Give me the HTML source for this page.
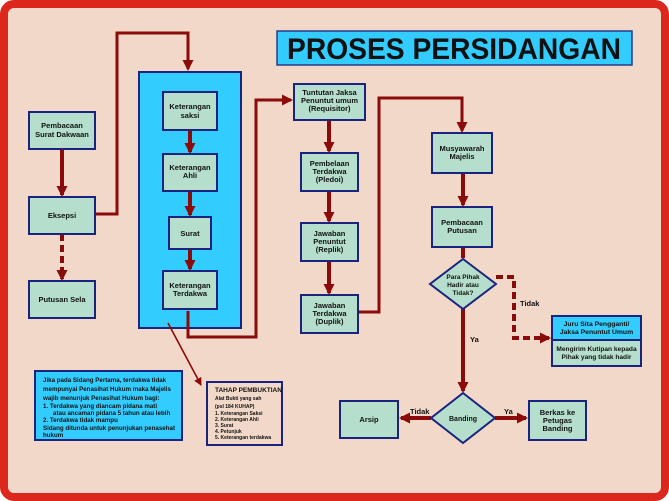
<!DOCTYPE html>
<html><head><meta charset="utf-8"><style>
html,body{margin:0;padding:0;background:#fff}
svg{display:block}
text{font-family:"Liberation Sans",sans-serif;font-weight:bold;fill:#111}
</style></head><body>
<svg width="669" height="501" viewBox="0 0 669 501" xmlns="http://www.w3.org/2000/svg">
<defs>
<marker id="a" markerWidth="11" markerHeight="11" refX="9" refY="5.5" orient="auto" markerUnits="userSpaceOnUse"><path d="M0,0 L11,5.5 L0,11 z" fill="#8b0a0a"/></marker>
<marker id="b" markerWidth="8" markerHeight="8" refX="7" refY="4" orient="auto" markerUnits="userSpaceOnUse"><path d="M0,0 L8,4 L0,8 z" fill="#8b0a0a"/></marker>
</defs>
<rect x="0" y="0" width="669" height="501" fill="#fff"/>
<rect x="4" y="4" width="661" height="493" rx="10" fill="#f2d8c8" stroke="#dc281c" stroke-width="8"/>

<rect x="277" y="31" width="355" height="34" fill="#33ccff" stroke="#2a3a8a" stroke-width="1.5"/>
<text x="454" y="59" text-anchor="middle" font-size="30" textLength="334" lengthAdjust="spacingAndGlyphs">PROSES PERSIDANGAN</text>

<rect x="139" y="72" width="102" height="256" fill="#33ccff" stroke="#1a237e" stroke-width="2"/>

<g fill="none" stroke="#8b0a0a" stroke-width="4">
<path d="M62,149 V195" marker-end="url(#a)"/>
<path d="M62,234 V279" stroke-dasharray="7,4" marker-end="url(#a)"/>
<path d="M95,214 H117 V33 H188 V69" stroke-width="3" marker-end="url(#a)"/>
<path d="M190,130 V152" marker-end="url(#a)"/>
<path d="M190,191 V215" marker-end="url(#a)"/>
<path d="M190,249 V269" marker-end="url(#a)"/>
<path d="M188,311 V337 H256 V100 H291" stroke-width="3" marker-end="url(#a)"/>
<path d="M329,120 V151" marker-end="url(#a)"/>
<path d="M329,191 V221" marker-end="url(#a)"/>
<path d="M329,261 V293" marker-end="url(#a)"/>
<path d="M358,312 H379 V98 H462 V131" stroke-width="3" marker-end="url(#a)"/>
<path d="M463,173 V205" marker-end="url(#a)"/>
<path d="M463,247 V258" />
<path d="M463,309 V391" marker-end="url(#a)"/>
<path d="M496,277 H514 V338 H549" stroke-dasharray="7,4" marker-end="url(#a)"/>
<path d="M431,418 H401" marker-end="url(#a)"/>
<path d="M495,418 H526" marker-end="url(#a)"/>
<path d="M168,323 L201,385" stroke-width="1.6" marker-end="url(#b)"/>
</g>

<g fill="#b5dfcc" stroke="#1a237e" stroke-width="2">
<rect x="29" y="112" width="66" height="37"/>
<rect x="29" y="197" width="66" height="37"/>
<rect x="29" y="281" width="66" height="37"/>
<rect x="163" y="92" width="54" height="38"/>
<rect x="163" y="154" width="54" height="37"/>
<rect x="169" y="217" width="42" height="32"/>
<rect x="163" y="271" width="54" height="38"/>
<rect x="294" y="84" width="71" height="36"/>
<rect x="301" y="153" width="57" height="38"/>
<rect x="301" y="223" width="57" height="38"/>
<rect x="301" y="295" width="57" height="38"/>
<rect x="432" y="133" width="60" height="40"/>
<rect x="432" y="207" width="60" height="40"/>
<polygon points="463,259 496,284 463,309 430,284"/>
<polygon points="463,393 495,418 463,443 431,418"/>
<rect x="340" y="401" width="58" height="37"/>
<rect x="529" y="401" width="57" height="39"/>
<rect x="552" y="340" width="89" height="26"/>
</g>
<rect x="552" y="316" width="89" height="24" fill="#33ccff" stroke="#1a237e" stroke-width="2"/>
<rect x="35" y="371" width="147" height="69" fill="#33ccff" stroke="#1a237e" stroke-width="2"/>
<rect x="207" y="382" width="75" height="63" fill="#f2d8c8" stroke="#1a237e" stroke-width="2"/>

<g font-size="7.5" text-anchor="middle">
<text x="62" y="128">Pembacaan</text><text x="62" y="137">Surat Dakwaan</text>
<text x="62" y="218">Eksepsi</text>
<text x="62" y="302">Putusan Sela</text>
<text x="190" y="109">Keterangan</text><text x="190" y="118">saksi</text>
<text x="190" y="170">Keterangan</text><text x="190" y="178">Ahli</text>
<text x="190" y="236">Surat</text>
<text x="190" y="288">Keterangan</text><text x="190" y="296">Terdakwa</text>
<text x="329.5" y="95">Tuntutan Jaksa</text><text x="329.5" y="103">Penuntut umum</text><text x="329.5" y="111">(Requisitor)</text>
<text x="329.5" y="166">Pembelaan</text><text x="329.5" y="174">Terdakwa</text><text x="329.5" y="182">(Pledoi)</text>
<text x="329.5" y="236">Jawaban</text><text x="329.5" y="244">Penuntut</text><text x="329.5" y="252">(Replik)</text>
<text x="329.5" y="308">Jawaban</text><text x="329.5" y="316">Terdakwa</text><text x="329.5" y="324">(Duplik)</text>
<text x="462" y="151">Musyawarah</text><text x="462" y="159">Majelis</text>
<text x="462" y="225">Pembacaan</text><text x="462" y="233">Putusan</text>
<text x="463" y="279" font-size="6.5">Para Pihak</text><text x="463" y="287" font-size="6.5">Hadir atau</text><text x="463" y="295" font-size="6.5">Tidak?</text>
<text x="463" y="421" font-size="7">Banding</text>
<text x="369" y="422">Arsip</text>
<text x="557.5" y="415">Berkas ke</text><text x="557.5" y="423">Petugas</text><text x="557.5" y="431">Banding</text>
<text x="596.5" y="326" font-size="6.8">Juru Sita Pengganti/</text><text x="596.5" y="334" font-size="6.8">Jaksa Penuntut Umum</text>
<text x="596.5" y="351" font-size="6.6">Mengirim Kutipan kepada</text><text x="596.5" y="359" font-size="6.6">Pihak yang tidak hadir</text>
</g>
<g font-size="7.5">
<text x="470" y="342">Ya</text>
<text x="520" y="306">Tidak</text>
<text x="410" y="414">Tidak</text>
<text x="504" y="414">Ya</text>
</g>
<g font-size="6.2">
<text x="43" y="382">Jika pada Sidang Pertama, terdakwa tidak</text>
<text x="43" y="391">mempunyai Penasihat Hukum maka Majelis</text>
<text x="43" y="400">wajib menunjuk Penasihat Hukum bagi:</text>
<text x="43" y="408">1.  Terdakwa yang diancam pidana mati</text>
<text x="53" y="415">atau ancaman pidana 5 tahun atau lebih</text>
<text x="43" y="422">2.  Terdakwa tidak mampu</text>
<text x="43" y="430">Sidang ditunda untuk penunjukan penasehat</text>
<text x="43" y="437">hukum</text>
</g>
<g font-size="5">
<text x="215" y="392" font-size="6.5">TAHAP PEMBUKTIAN</text>
<text x="215" y="400">Alat Bukti yang sah</text>
<text x="215" y="408">(psl 184 KUHAP)</text>
<text x="215" y="415">1.   Keterangan Saksi</text>
<text x="215" y="421">2.   Keterangan Ahli</text>
<text x="215" y="427">3.   Surat</text>
<text x="215" y="433">4.   Petunjuk</text>
<text x="215" y="439">5.   Keterangan terdakwa</text>
</g>
</svg>
</body></html>
